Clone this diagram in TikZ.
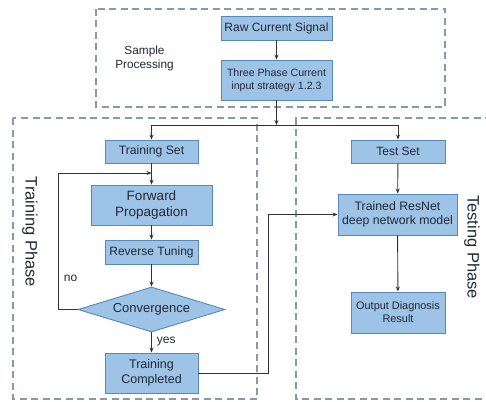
\documentclass[tikz,border=0pt]{standalone}
\usepackage{fontspec}
\setmainfont{Liberation Sans}
\usetikzlibrary{shapes.geometric,arrows.meta}
\definecolor{boxfill}{RGB}{157,195,230}
\definecolor{boxdraw}{RGB}{88,136,186}
\definecolor{dashgray}{RGB}{140,152,165}
\definecolor{txt}{RGB}{35,40,55}
\definecolor{linec}{RGB}{50,50,50}
\tikzset{
  blk/.style={draw=boxdraw, fill=boxfill, line width=0.9pt, inner sep=0pt, align=center, text=txt},
  phase/.style={draw=dashgray, line width=1.3pt, dash pattern=on 7pt off 4.5pt},
  arr/.style={draw=linec, line width=0.9pt, -{Stealth[length=5pt,width=4pt]}},
  ln/.style={draw=linec, line width=0.9pt},
  lab/.style={text=txt, inner sep=0pt}
}
\begin{document}
\begin{tikzpicture}[x=1pt,y=-1pt]
\useasboundingbox (0,0) rectangle (486,401);
% phase frames
\draw[phase] (96,9) rectangle (445,107);
\draw[phase] (13,118) rectangle (257,399);
\draw[phase] (492,118) -- (296,118) -- (296,399) -- (492,399);
% labels
\node[lab, align=center, font=\fontsize{11.8}{14}\selectfont] (sp) at (144.5,58.5) {Sample\\Processing};
\node[lab, rotate=-90, font=\fontsize{16.5}{18}\selectfont] (tp) at (30,232) {Training Phase};
\node[lab, rotate=-90, font=\fontsize{16.5}{18}\selectfont] (tep) at (472,247) {Testing Phase};
% boxes
\node[blk, minimum width=111pt, minimum height=24pt, font=\fontsize{12}{14}\selectfont] (raw) at (276.5,28) {Raw Current Signal};
\node[blk, minimum width=111pt, minimum height=40pt, font=\fontsize{10.6}{13}\selectfont] (three) at (276.5,80) {Three Phase Current\\input strategy 1.2.3};
\node[blk, minimum width=93pt, minimum height=23pt, font=\fontsize{12.2}{14}\selectfont] (trainset) at (151.5,151.5) {Training Set};
\node[blk, minimum width=121pt, minimum height=40pt, font=\fontsize{13.5}{16}\selectfont] (fwd) at (151.5,205) {Forward\\Propagation};
\node[blk, minimum width=93pt, minimum height=24pt, font=\fontsize{12}{14}\selectfont] (rev) at (151.5,252) {Reverse Tuning};
\node[blk, shape=diamond, shape aspect=3.27, minimum width=147pt, minimum height=45pt, font=\fontsize{13}{15}\selectfont] (conv) at (151.5,309.5) {Convergence};
\node[blk, minimum width=93pt, minimum height=40pt, font=\fontsize{12.5}{15}\selectfont] (done) at (151.5,373) {Training\\Completed};
\node[blk, minimum width=94pt, minimum height=23pt, font=\fontsize{12}{14}\selectfont] (testset) at (398,151.5) {Test Set};
\node[blk, minimum width=119pt, minimum height=41pt, font=\fontsize{12.3}{14.5}\selectfont] (resnet) at (397.5,214.5) {Trained ResNet\\deep network model};
\node[blk, minimum width=94pt, minimum height=41pt, font=\fontsize{10.9}{13}\selectfont] (out) at (398,312.5) {Output Diagnosis\\Result};
% coordinates
\coordinate (jm) at (276.5,125);
\coordinate (lp) at (58,173);
\coordinate (lj) at (151.5,173);
\coordinate (cc) at (268,373);
% connectors
\draw[arr] (raw) -- (three);
\draw[arr] (three) -- (jm);
\draw[arr] (jm) -| (trainset);
\draw[arr] (jm) -| (testset);
\draw[arr] (trainset) -- (fwd);
\draw[arr] (fwd) -- (rev);
\draw[arr] (rev) -- (conv);
\draw[arr] (conv) -- node[lab, right=5pt, pos=0.45, font=\fontsize{12}{14}\selectfont] (yes) {yes} (done);
\draw[arr] (conv.west) -| (lp) -- (lj);
\node[lab, font=\fontsize{12}{14}\selectfont] (no) at (70.5,278) {no};
\draw[arr] (done.east) -- (cc) |- (resnet.west);
\draw[arr] (testset) -- (resnet);
\draw[arr] (resnet) -- (out);
\end{tikzpicture}
\end{document}
